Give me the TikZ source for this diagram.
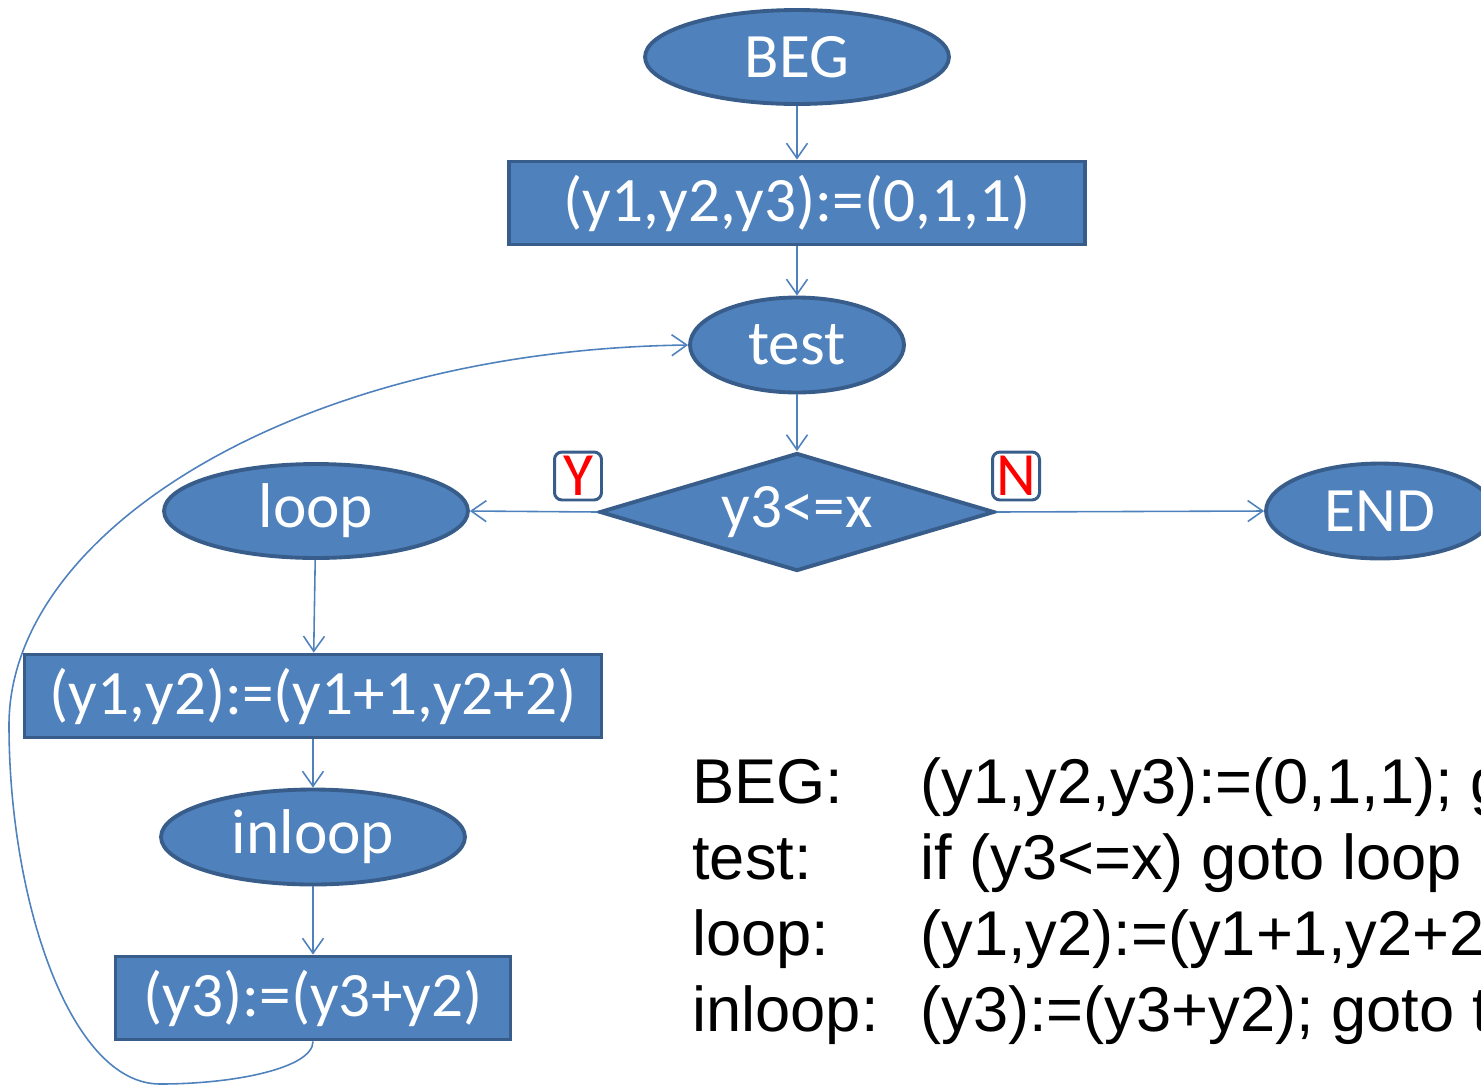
\documentclass[tikz,border=0pt]{standalone}
\usepackage{fontspec}
\setmainfont{Carlito}
\newfontfamily\codefont{Liberation Sans}
\usetikzlibrary{shapes.geometric,arrows.meta}
\definecolor{boxfill}{HTML}{4F81BD}
\definecolor{boxline}{HTML}{385D8A}

\begin{document}
\begin{tikzpicture}[x=0.02cm,y=-0.02cm,
  blk/.style={draw=boxline,line width=2.2pt,fill=boxfill,text=white,inner sep=0pt,font=\fontsize{36}{40}\selectfont},
  term/.style={blk,ellipse,minimum width=6.08cm,minimum height=1.88cm},
  stmt/.style={blk,rectangle,minimum height=1.66cm},
  cond/.style={blk,diamond,aspect=3.35,minimum width=7.9cm,minimum height=2.36cm},
  flow/.style={draw=boxfill,line width=0.9pt,-{Straight Barb[length=0.3cm,width=0.42cm]}},
  tag/.style={draw=boxline,line width=1.7pt,rounded corners=0.15cm,fill=white,text=red,inner sep=0pt,minimum width=0.94cm,minimum height=0.96cm,font=\fontsize{35}{40}\selectfont},
  code/.style={anchor=base west,inner sep=0pt,font=\codefont\fontsize{36}{43}\selectfont}]
\clip (0,0) rectangle (1481,1086);

% main column
\node[term] (beg) at (797,57) {BEG};
\node[stmt,minimum width=11.52cm] (init) at (797,203) {(y1,y2,y3):=(0,1,1)};
\node[term,minimum width=4.28cm,minimum height=1.9cm] (test) at (797,345) {test};
\node[cond] (cmp) at (797,512) {y3<=x};
\node[term,minimum width=4.56cm,minimum height=1.9cm] (end) at (1380,511) {END};

% loop body
\node[term] (loop) at (316,511) {loop};
\node[stmt,minimum width=11.54cm] (upd) at (313,696) {(y1,y2):=(y1+1,y2+2)};
\node[term,minimum height=1.9cm] (inloop) at (313,837) {inloop};
\node[stmt,minimum width=7.9cm] (acc) at (313,998) {(y3):=(y3+y2)};

% branch tags
\node[tag] (yes) at (578,476) {Y};
\node[tag] (no) at (1016,476) {N};

% connectors
\draw[flow] (beg) -- (init);
\draw[flow] (init) -- (test);
\draw[flow] (test) -- (cmp);
\draw[flow] (cmp.west) -- (loop.east);
\draw[flow] (cmp.east) -- (end.west);
\draw[flow] (loop) -- (upd);
\draw[flow] (upd) -- (inloop);
\draw[flow] (inloop) -- (acc);
\draw[flow] (acc.south) .. controls (313,1068) and (235,1084) .. (160,1084)
  .. controls (70,1084) and (9,900) .. (9,725)
  .. controls (9,530) and (300,350) .. (test.west);

% program text
\node[code] (l1) at (692,803) {BEG:};
\node[code] (c1) at (920,803) {(y1,y2,y3):=(0,1,1); g};
\node[code] (l2) at (692,879) {test:};
\node[code] (c2) at (920,879) {if (y3<=x) goto loop};
\node[code] (l3) at (692,955) {loop:};
\node[code] (c3) at (920,955) {(y1,y2):=(y1+1,y2+2};
\node[code] (l4) at (692,1031) {inloop:};
\node[code] (c4) at (920,1031) {(y3):=(y3+y2); goto t};
\end{tikzpicture}
\end{document}
